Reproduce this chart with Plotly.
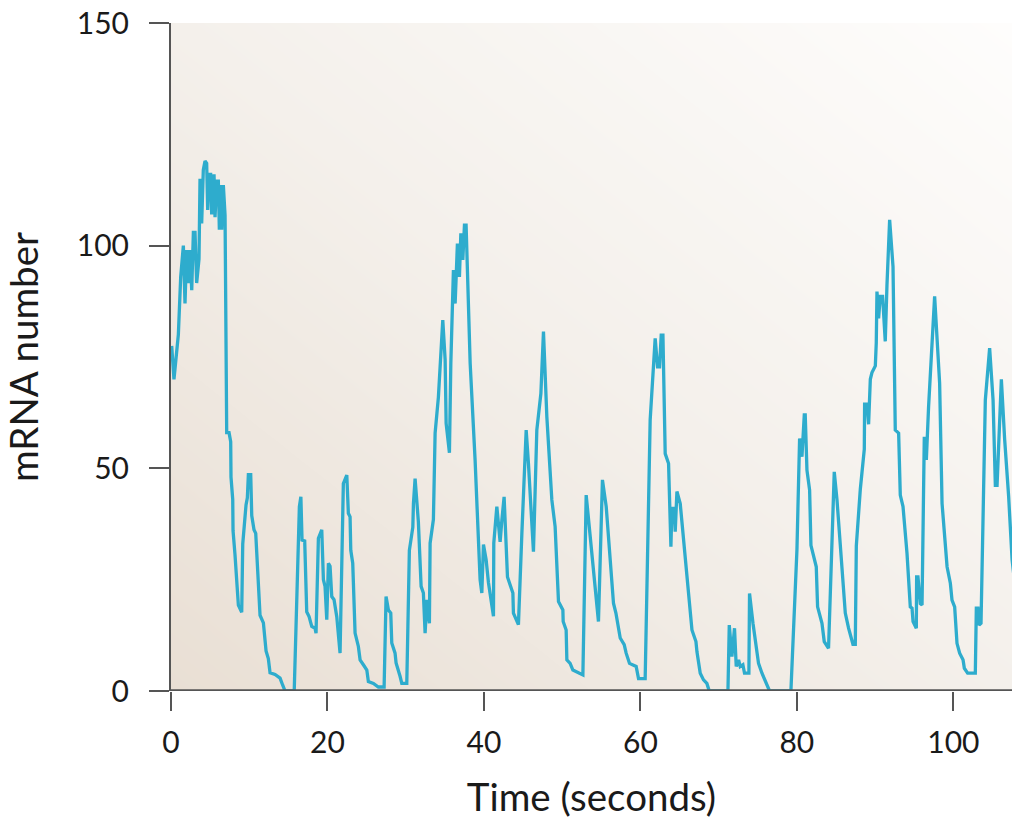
import numpy as np
import plotly.graph_objects as go

# ---- data ----
time_s = [
    0.09, 0.38, 0.94, 1.24, 1.58, 1.79, 2.0, 2.22, 2.43, 2.65, 2.86, 3.07, 3.28, 3.58, 3.71, 3.92,
    4.13, 4.35, 4.56, 4.69, 4.86, 5.07, 5.2, 5.5, 5.63, 5.84, 6.05, 6.18, 6.35, 6.48, 6.69, 6.91,
    7.12, 7.42, 7.63, 7.67, 7.89, 7.93, 8.18, 8.4, 8.61, 9.04, 9.17, 9.59, 9.76, 9.89, 10.19, 10.32,
    10.61, 10.83, 11.17, 11.38, 11.81, 12.15, 12.44, 12.66, 13.3, 13.94, 14.28, 14.58, 15.75,
    16.41, 16.6, 16.75, 17.09, 17.35, 17.65, 17.99, 18.41, 18.54, 18.84, 19.27, 19.48, 19.69, 19.91,
    20.12, 20.33, 20.55, 20.84, 21.19, 21.61, 22.03, 22.47, 22.67, 22.89, 22.98, 23.23, 23.53, 23.95,
    24.17, 24.59, 25.03, 25.23, 25.87, 26.51, 27.24, 27.49, 27.79, 28.09, 28.22, 28.64, 28.77, 29.28,
    29.5, 30.14, 30.47, 30.91, 30.99, 31.2, 31.62, 31.97, 32.26, 32.48, 32.7, 33.03, 33.12, 33.54,
    33.63, 33.76, 34.18, 34.74, 35.04, 35.17, 35.59, 35.77, 36.1, 36.32, 36.45, 36.61, 36.87, 37.05,
    37.3, 37.51, 37.72, 37.89, 38.24, 38.87, 39.51, 39.73, 39.94, 40.28, 40.58, 41.22, 41.26, 41.65,
    42.07, 42.29, 42.58, 43.01, 43.35, 43.7, 43.77, 44.41, 44.85, 45.14, 45.4, 45.69, 46.33, 46.76,
    47.28, 47.61, 48.04, 48.68, 49.1, 49.53, 50.09, 50.13, 50.51, 50.6, 51.02, 51.37, 52.65, 53.07,
    54.64, 55.15, 55.63, 56.56, 56.87, 57.42, 57.93, 58.18, 58.61, 59.46, 59.76, 60.61, 61.25, 61.89,
    62.19, 62.45, 62.66, 62.88, 63.17, 63.6, 63.9, 64.03, 64.32, 64.45, 64.67, 65.09, 65.95, 66.59,
    67.1, 67.23, 67.65, 68.07, 68.5, 68.8, 71.19, 71.36, 71.7, 72.03, 72.25, 72.55, 72.76, 73.1,
    73.31, 73.87, 73.95, 74.39, 75.1, 75.54, 76.51, 79.24, 80.01, 80.35, 80.65, 80.95, 81.07, 81.29,
    81.63, 81.8, 82.48, 82.65, 83.21, 83.5, 84.05, 84.78, 85.13, 85.64, 86.19, 86.61, 87.17, 87.47,
    87.6, 88.11, 88.62, 88.66, 88.96, 89.17, 89.39, 89.6, 90.03, 90.15, 90.24, 90.45, 90.66, 90.96,
    91.09, 91.3, 91.52, 91.86, 92.29, 92.58, 93.01, 93.22, 93.57, 94.08, 94.5, 94.72, 94.85, 95.27,
    95.31, 95.48, 95.78, 96.0, 96.29, 96.55, 96.84, 97.61, 98.25, 98.56, 99.2, 99.62, 99.83, 100.17,
    100.47, 100.81, 101.24, 101.41, 101.83, 102.81, 102.94, 103.15, 103.29, 103.54, 104.09, 104.64,
    105.08, 105.37, 105.59, 106.14, 106.56, 107.07, 107.51, 108.0,
]
mrna = [
    77.5, 70, 80, 93, 100, 87, 99, 91.6, 99, 90, 103, 103, 91.6, 97, 115, 105,
    117, 119, 118.5, 108, 116, 116, 107, 116, 106.4, 114.5, 114.5, 103.6, 113.6, 103.6, 113.6, 106.8,
    58, 58, 56, 48, 43, 36, 30.6, 24, 19.3, 17.7, 33, 41.8, 43.4, 48.6, 48.6, 39.4,
    36.2, 35.4, 25, 17, 15.3, 9, 7.3, 4.1, 3.7, 2.9, 1.3, 0, 0,
    41.4, 43.6, 33.9, 33.7, 17.8, 16.7, 14.5, 14.1, 13, 34.3, 36.2, 25, 23.5, 16,
    28.7, 28, 21.2, 20.5, 16.7, 8.5, 46.6, 48.5, 39.9, 39.1, 31.6, 28.7, 13, 10,
    7, 5.9, 4.7, 2.1, 1.7, 0.9, 0.9, 21.2, 18.2, 17.5, 10.8, 8.5, 6.3, 3.3,
    1.7, 1.7, 31.6, 36.8, 42.1, 47.7, 38, 23.5, 22, 13, 20.5, 15.2, 33.2, 38.5,
    50.4, 57.9, 66, 83.3, 74.4, 60.1, 53.5, 73.7, 94.5, 87, 93, 100.5, 93, 102.8,
    96.8, 104.6, 104.6, 95.3, 73.6, 51.9, 25, 22, 32.9, 29.5, 24.3, 16.8, 33.2, 41.4,
    33.5, 38.3, 43.6, 25.6, 23.5, 22, 17.5, 14.9, 35.4, 48.1, 58.6, 51.1, 31.3, 58.6,
    66.8, 80.7, 61.6, 42.9, 36.9, 20.1, 18.2, 15.6, 13.7, 7, 6.2, 4.7, 3.6, 44,
    15.6, 47.4, 41.4, 19.7, 17.5, 11.9, 10.4, 8.5, 6.2, 5.5, 2.8, 2.8, 60.9, 79.2,
    72.8, 72.8, 79.9, 79.9, 53.3, 51.1, 32.4, 41, 41, 35.8, 44.8, 42.1, 24.9, 13.7,
    11.1, 8.8, 4, 2.5, 1.7, 0, 0, 14.8, 7.7, 14.1, 5.5, 7, 5.5, 5.9,
    4, 4, 21.9, 15.2, 6.2, 4, 0, 0, 31.7, 56.7, 52.6, 62, 62, 49.6,
    45.1, 32.7, 27.9, 18.9, 15.2, 11.1, 9.6, 49.2, 42.9, 29.5, 17.5, 14.1, 10.5, 10.5,
    32.6, 45.3, 54.3, 64.4, 64.4, 59.9, 70, 71.5, 73, 78.2, 89.7, 83.7, 88.6, 88.6,
    83.7, 78.5, 91.2, 105.8, 95.3, 58.6, 57.9, 44, 41.4, 30.9, 18.9, 18.6, 15.6, 14.1,
    25.6, 25.6, 19.6, 19.3, 57.1, 51.9, 63.9, 88.6, 69.1, 42.1, 27.9, 24.2, 20.4, 18.9,
    10.7, 8.5, 7, 5.1, 4, 4, 18.6, 18.6, 14.8, 15.2, 65.3, 77,
    65.3, 46.2, 46.2, 70, 56.5, 43.7, 29.5, 22,
]

x_ticks = [0, 20, 40, 60, 80, 100]
y_ticks = [0, 50, 100, 150]
x_title = "Time (seconds)"
y_title = "mRNA number"

X_RANGE = [0, 107.5]
Y_RANGE = [0, 150]

AXIS_COLOR = "#555555"

# ---- background gradient (style only) ----
gx = np.linspace(X_RANGE[0], X_RANGE[1], 40)
gy = np.linspace(Y_RANGE[0], Y_RANGE[1], 40)
GX, GY = np.meshgrid(gx, gy)
gz = (GX / X_RANGE[1] + GY / Y_RANGE[1]) / 2.0

fig = go.Figure()
fig.add_trace(go.Heatmap(
    x=gx, y=gy, z=gz, zsmooth="best", showscale=False, hoverinfo="skip",
    colorscale=[[0, "#e9dfd4"], [0.5, "#f4f0eb"], [1, "#fefdfc"]],
))
fig.add_trace(go.Scatter(
    x=time_s, y=mrna, mode="lines",
    line=dict(color="#2eaccd", width=3.3),
    showlegend=False,
))

# bottom axis baseline drawn above the trace (hides the zero-level stretches like the original)
fig.add_shape(
    type="line", xref="paper", yref="y", x0=0, x1=1, y0=Y_RANGE[0], y1=Y_RANGE[0],
    line=dict(color=AXIS_COLOR, width=3.6), layer="above",
)

FONT = "Lato, 'Open Sans', sans-serif"
fig.update_layout(
    width=1012, height=821,
    margin=dict(l=171, r=0, t=23, b=130),
    paper_bgcolor="white", plot_bgcolor="white",
    font=dict(family=FONT, color="#1a1a1a"),
    showlegend=False,
)
fig.update_xaxes(
    range=X_RANGE, tickvals=x_ticks, ticktext=[str(v) for v in x_ticks],
    ticks="outside", ticklen=19, tickwidth=2, tickcolor=AXIS_COLOR,
    showline=False,
    showgrid=False, zeroline=False, tickfont=dict(size=30, family=FONT),
    ticklabelstandoff=6,
    title=dict(text=x_title, font=dict(size=38.5, family=FONT), standoff=26),
)
fig.update_yaxes(
    range=Y_RANGE, tickvals=y_ticks, ticktext=[str(v) for v in y_ticks],
    ticks="outside", ticklen=20, tickwidth=2, tickcolor=AXIS_COLOR,
    showline=True, linecolor=AXIS_COLOR, linewidth=2,
    showgrid=False, zeroline=False, tickfont=dict(size=30, family=FONT),
    ticklabelstandoff=14,
    title=dict(text=y_title, font=dict(size=38.5, family=FONT), standoff=28),
)

fig.write_html(
    "out.html",
    config={"displayModeBar": False},
    post_script="document.body.style.margin='0';document.body.style.overflow='hidden';",
)
